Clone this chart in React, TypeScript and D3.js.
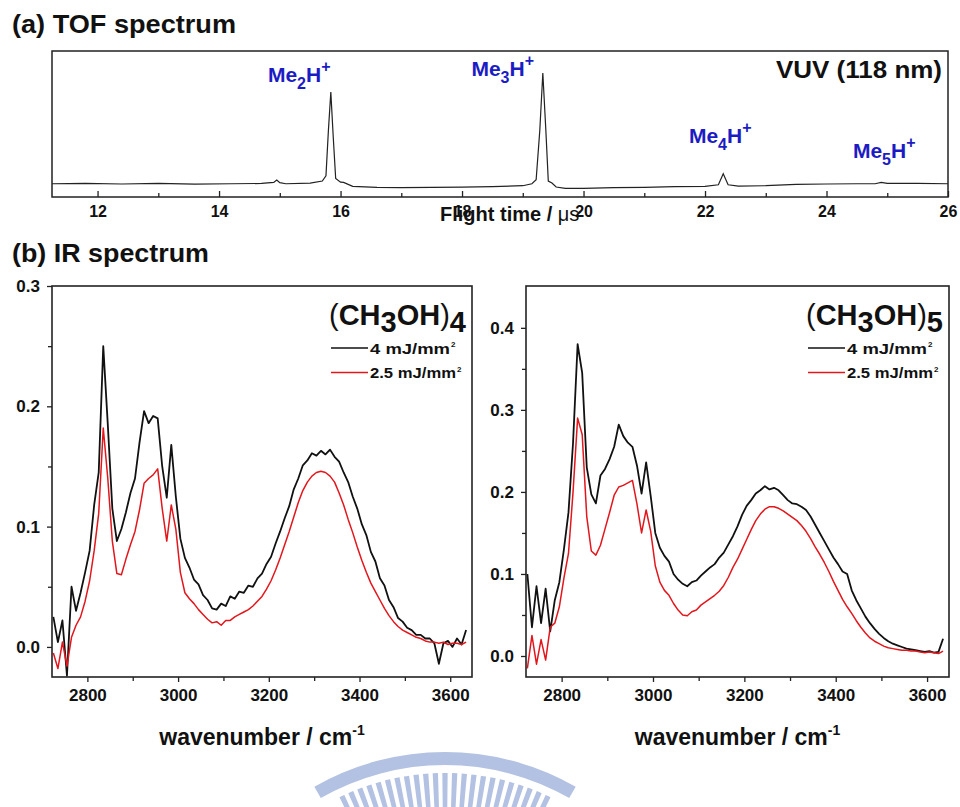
import React, { useEffect, useRef } from "react";
import * as d3 from "d3";

// ---- (a) TOF spectrum ----
const tofTime = [
  11.25, 11.8, 12.4, 13.0, 13.6, 14.2, 14.7, 14.9, 14.95, 15.0, 15.1, 15.5, 15.7, 15.76, 15.8, 15.84,
  15.88, 15.92, 16.0, 16.05, 16.2, 16.6, 17.0, 17.5, 18.0, 18.5, 19.0, 19.15, 19.22, 19.28, 19.33,
  19.38, 19.42, 19.48, 19.55, 19.7, 20.0, 20.5, 21.0, 21.5, 22.0, 22.22, 22.3, 22.38, 22.55, 23.0,
  23.5, 24.0, 24.5, 24.8, 24.9, 25.0, 25.5, 26.0,
];
const tofSignal = [
  0.0, 0.003, -0.002, 0.002, -0.003, 0.0, 0.002, 0.01, 0.028, 0.008, 0.0, 0.005, 0.02, 0.06, 0.4, 0.69,
  0.35, 0.04, 0.012, 0.01, -0.02, -0.028, -0.03, -0.027, -0.025, -0.022, -0.015, 0.0, 0.03, 0.4, 0.834,
  0.4, 0.02, 0.005, -0.025, -0.035, -0.035, -0.03, -0.028, -0.022, -0.02, -0.008, 0.075, -0.008, -0.018,
  -0.015, -0.005, -0.002, 0.0, 0.0, 0.01, 0.002, 0.003, 0.0,
];
const tofMajorTicks = [12, 14, 16, 18, 20, 22, 24, 26];
const tofMinorTicks = [13, 15, 17, 19, 21, 23, 25];
const ionNumbers = ["2", "3", "4", "5"];
const ionLabelTimes = [15.32, 18.67, 22.25, 24.95];

// ---- (b) IR spectra, sampled every 10 cm-1 from 2725 to 3635 ----
const wavenumbers = d3.range(2725, 3640, 10);
const tetramerHigh = [
  0.025, 0.004, 0.022, -0.024, 0.05, 0.03, 0.045, 0.062, 0.08, 0.118,
  0.145, 0.25, 0.185, 0.115, 0.088, 0.098, 0.112, 0.128, 0.14, 0.17,
  0.196, 0.186, 0.192, 0.19, 0.15, 0.124, 0.168, 0.125, 0.09, 0.074,
  0.066, 0.056, 0.052, 0.043, 0.039, 0.032, 0.031, 0.036, 0.034, 0.042,
  0.04, 0.046, 0.045, 0.051, 0.05, 0.057, 0.061, 0.069, 0.075, 0.086,
  0.096, 0.107, 0.117, 0.131, 0.14, 0.151, 0.155, 0.161, 0.159, 0.163,
  0.16, 0.164, 0.158, 0.154, 0.145, 0.137, 0.125, 0.115, 0.102, 0.093,
  0.079, 0.071, 0.057, 0.051, 0.039, 0.033, 0.024, 0.021, 0.016, 0.014,
  0.01, 0.01, 0.007, 0.007, 0.003, -0.014, 0.003, 0.005, 0.0, 0.007,
  0.002, 0.014,
];
const tetramerLow = [
  -0.005, -0.018, 0.004, -0.016, 0.008, 0.018, 0.025, 0.038, 0.055, 0.08,
  0.111, 0.182, 0.14, 0.088, 0.061, 0.06, 0.073, 0.085, 0.096, 0.114,
  0.136, 0.14, 0.143, 0.148, 0.115, 0.088, 0.118, 0.098, 0.062, 0.045,
  0.04, 0.036, 0.031, 0.027, 0.023, 0.02, 0.021, 0.018, 0.022, 0.022,
  0.025, 0.027, 0.029, 0.031, 0.034, 0.038, 0.042, 0.048, 0.055, 0.064,
  0.074, 0.085, 0.096, 0.108, 0.12, 0.13, 0.137, 0.142, 0.145, 0.146,
  0.145, 0.142, 0.137, 0.128, 0.118, 0.106, 0.095, 0.083, 0.072, 0.062,
  0.053, 0.046, 0.039, 0.032, 0.026, 0.021, 0.017, 0.014, 0.012, 0.01,
  0.008, 0.007, 0.005, 0.004, 0.004, 0.003, 0.004, 0.002, 0.003, 0.003,
  0.002, 0.004,
];
const pentamerHigh = [
  0.1, 0.035, 0.085, 0.04, 0.082, 0.03, 0.068, 0.09, 0.13, 0.175,
  0.26, 0.38, 0.345, 0.23, 0.197, 0.186, 0.22, 0.228, 0.24, 0.255,
  0.282, 0.268, 0.26, 0.255, 0.232, 0.198, 0.236, 0.195, 0.15, 0.132,
  0.122, 0.115, 0.1, 0.093, 0.088, 0.085, 0.09, 0.092, 0.098, 0.103,
  0.108, 0.112, 0.12, 0.126, 0.136, 0.146, 0.158, 0.172, 0.183, 0.19,
  0.198, 0.202, 0.207, 0.203, 0.205, 0.202, 0.196, 0.19, 0.186, 0.185,
  0.182, 0.178, 0.17, 0.16, 0.15, 0.14, 0.13, 0.12, 0.112, 0.103,
  0.1, 0.08, 0.068, 0.058, 0.048, 0.04, 0.033, 0.027, 0.022, 0.018,
  0.015, 0.013, 0.011, 0.009, 0.008, 0.007, 0.006, 0.005, 0.006, 0.004,
  0.005, 0.021,
];
const pentamerLow = [
  -0.015, 0.025, -0.01, 0.02, -0.005, 0.035, 0.04, 0.06, 0.095, 0.125,
  0.2, 0.29, 0.27, 0.17, 0.128, 0.123, 0.135, 0.155, 0.175, 0.196,
  0.206, 0.208, 0.211, 0.214, 0.185, 0.15, 0.178, 0.152, 0.11, 0.09,
  0.08, 0.074, 0.064, 0.056, 0.05, 0.049, 0.054, 0.056, 0.062, 0.066,
  0.07, 0.074, 0.079, 0.086, 0.096, 0.108, 0.118, 0.13, 0.142, 0.154,
  0.165, 0.173, 0.179, 0.182, 0.182, 0.18, 0.177, 0.173, 0.169, 0.165,
  0.159, 0.152, 0.143, 0.133, 0.124, 0.114, 0.103, 0.091, 0.08, 0.069,
  0.06, 0.052, 0.043, 0.035, 0.028, 0.022, 0.018, 0.015, 0.012, 0.01,
  0.009, 0.008, 0.007, 0.007, 0.006, 0.006, 0.005, 0.004, 0.005, 0.004,
  0.003, 0.006,
];
const irMajorTicks = [2800, 3000, 3200, 3400, 3600];
const irMinorTicks = [2900, 3100, 3300, 3500];
const tetramerYTicks = [0.0, 0.1, 0.2, 0.3];
const tetramerYMinor = [0.05, 0.15, 0.25];
const pentamerYTicks = [0.0, 0.1, 0.2, 0.3, 0.4];
const pentamerYMinor = [0.05, 0.15, 0.25, 0.35];
const fluenceLabels = ["4 mJ/mm", "2.5 mJ/mm"];
const seriesColors = ["#111111", "#e3161c"];

const SANS = "'Liberation Sans', Arial, Helvetica, sans-serif";
const BLUE = "#1c1cc4";

type Sel = d3.Selection<SVGGElement, unknown, null, undefined>;

function styleAxis(g: Sel, size: number) {
  g.attr("font-family", SANS).attr("font-size", size).attr("font-weight", "bold");
  g.select(".domain").remove();
  g.selectAll("line").attr("stroke", "#222").attr("stroke-width", 1.3);
  g.selectAll("text").attr("fill", "#111");
}

function drawIR(
  svg: d3.Selection<SVGSVGElement, unknown, null, undefined>,
  box: { l: number; r: number; t: number; b: number },
  yDomain: [number, number],
  yMajor: number[],
  yMinor: number[],
  series: number[][],
  nSub: string
) {
  const x = d3.scaleLinear().domain([2722, 3648]).range([box.l, box.r]);
  const y = d3.scaleLinear().domain(yDomain).range([box.b, box.t]);
  const g = svg.append("g");

  const clipId = "clip" + nSub;
  svg.append("clipPath").attr("id", clipId)
    .append("rect").attr("x", box.l).attr("y", box.t).attr("width", box.r - box.l).attr("height", box.b - box.t);

  const line = d3.line<number>().x((_, i) => x(wavenumbers[i])).y((d) => y(d));
  const plot = g.append("g").attr("clip-path", `url(#${clipId})`);
  [0, 1].forEach((k) => {
    plot.append("path").datum(series[k]).attr("d", line)
      .attr("fill", "none").attr("stroke", seriesColors[k])
      .attr("stroke-width", k === 0 ? 1.8 : 1.5).attr("stroke-linejoin", "round");
  });

  const xa = g.append("g").attr("transform", `translate(0,${box.b})`)
    .call(d3.axisBottom(x).tickValues(irMajorTicks).tickSize(5).tickPadding(7).tickFormat(d3.format("d")));
  styleAxis(xa, 17);
  g.append("g").attr("transform", `translate(0,${box.b})`)
    .call(d3.axisBottom(x).tickValues(irMinorTicks).tickSize(4).tickFormat(() => ""))
    .call((s) => styleAxis(s, 17));

  const ya = g.append("g").attr("transform", `translate(${box.l},0)`)
    .call(d3.axisLeft(y).tickValues(yMajor).tickSize(5).tickPadding(7).tickFormat(d3.format(".1f")));
  styleAxis(ya, 17);
  g.append("g").attr("transform", `translate(${box.l},0)`)
    .call(d3.axisLeft(y).tickValues(yMinor).tickSize(4).tickFormat(() => ""))
    .call((s) => styleAxis(s, 17));

  g.append("rect").attr("x", box.l).attr("y", box.t).attr("width", box.r - box.l).attr("height", box.b - box.t)
    .attr("fill", "none").attr("stroke", "#222").attr("stroke-width", 1.6);

  // x-axis title
  const xt = g.append("text").attr("x", (box.l + box.r) / 2).attr("y", 745)
    .attr("text-anchor", "middle").attr("font-family", SANS).attr("font-size", 23)
    .attr("font-weight", "bold").attr("fill", "#111");
  xt.append("tspan").text("wavenumber / cm");
  xt.append("tspan").attr("font-size", 14).attr("dy", -10).text("-1");

  // species label
  const sp = g.append("text").attr("x", box.r - 6).attr("y", 325).attr("text-anchor", "end")
    .attr("font-family", SANS).attr("font-size", 29).attr("fill", "#111");
  sp.append("tspan").attr("font-weight", "normal").text("(");
  sp.append("tspan").attr("font-weight", "bold").text("CH");
  sp.append("tspan").attr("font-weight", "bold").attr("dy", 7).text("3");
  sp.append("tspan").attr("font-weight", "bold").attr("dy", -7).text("OH");
  sp.append("tspan").attr("font-weight", "normal").text(")");
  sp.append("tspan").attr("font-weight", "bold").attr("dy", 7).text(nSub);

  // legend
  const lx = box.r - 141;
  fluenceLabels.forEach((lab, k) => {
    const ly = 348 + k * 24.5;
    g.append("line").attr("x1", lx).attr("x2", lx + 37).attr("y1", ly).attr("y2", ly)
      .attr("stroke", seriesColors[k]).attr("stroke-width", 1.5);
    const w = k === 0 ? 80 : 86;
    g.append("text").attr("x", lx + 39).attr("y", ly + 5.5)
      .attr("font-family", SANS).attr("font-size", 14).attr("font-weight", "bold").attr("fill", "#111")
      .attr("textLength", w).attr("lengthAdjust", "spacingAndGlyphs").text(lab);
    g.append("text").attr("x", lx + 39 + w + 1).attr("y", ly - 1)
      .attr("font-family", SANS).attr("font-size", 8).attr("font-weight", "bold").attr("fill", "#111").text("2");
  });
}

const App: React.FC = () => {
  const ref = useRef<SVGSVGElement>(null);

  useEffect(() => {
    const svg = d3.select(ref.current as SVGSVGElement);
    svg.selectAll("*").remove();
    svg.append("rect").attr("width", 960).attr("height", 807).attr("fill", "#fff");

    // watermark (faint logo at bottom)
    const wm = svg.append("g").attr("transform", "translate(445,1015)").attr("fill", "#b3c2e2");
    wm.append("path").attr("d", d3.arc()({ innerRadius: 250, outerRadius: 263, startAngle: -0.52, endAngle: 0.52 }) || "");
    d3.range(-0.44, 0.45, 0.04).forEach((a) => {
      wm.append("path").attr("d", d3.arc()({ innerRadius: 205, outerRadius: 242, startAngle: a - 0.011, endAngle: a + 0.011 }) || "");
    });

    // panel titles
    svg.append("text").attr("x", 12).attr("y", 33).attr("font-family", SANS).attr("font-size", 25)
      .attr("font-weight", "bold").attr("fill", "#111")
      .attr("textLength", 224).attr("lengthAdjust", "spacingAndGlyphs").text("(a) TOF spectrum");
    svg.append("text").attr("x", 12).attr("y", 262).attr("font-family", SANS).attr("font-size", 25)
      .attr("font-weight", "bold").attr("fill", "#111")
      .attr("textLength", 197).attr("lengthAdjust", "spacingAndGlyphs").text("(b) IR spectrum");

    // ---- TOF panel ----
    const tb = { l: 52, r: 948, t: 51, b: 197 };
    const tx = d3.scaleLinear().domain([11.25, 26]).range([tb.l, tb.r]);
    const ty = d3.scaleLinear().domain([-0.1, 1.0]).range([tb.b, tb.t]);
    const tg = svg.append("g");
    tg.append("path").datum(tofSignal)
      .attr("d", d3.line<number>().x((_, i) => tx(tofTime[i])).y((d) => ty(d)))
      .attr("fill", "none").attr("stroke", "#222").attr("stroke-width", 1.2);

    const txa = tg.append("g").attr("transform", `translate(0,${tb.b})`)
      .call(d3.axisBottom(tx).tickValues(tofMajorTicks).tickSizeInner(-6).tickSizeOuter(0).tickPadding(9).tickFormat(d3.format("d")));
    styleAxis(txa, 16);
    tg.append("g").attr("transform", `translate(0,${tb.b})`)
      .call(d3.axisBottom(tx).tickValues(tofMinorTicks).tickSizeInner(-4).tickSizeOuter(0).tickFormat(() => ""))
      .call((s) => styleAxis(s, 16));
    tg.append("rect").attr("x", tb.l).attr("y", tb.t).attr("width", tb.r - tb.l).attr("height", tb.b - tb.t)
      .attr("fill", "none").attr("stroke", "#222").attr("stroke-width", 1.5);

    const ft = tg.append("text").attr("x", 440).attr("y", 221).attr("font-family", SANS)
      .attr("font-size", 20).attr("font-weight", "bold").attr("fill", "#111");
    ft.append("tspan").text("Flight time / ");
    ft.append("tspan").attr("font-weight", "normal").text("μs");

    tg.append("text").attr("x", 942).attr("y", 78).attr("text-anchor", "end").attr("font-family", SANS)
      .attr("font-size", 23).attr("font-weight", "bold").attr("fill", "#111")
      .attr("textLength", 166).attr("lengthAdjust", "spacingAndGlyphs").text("VUV (118 nm)");

    const labelBase = [82, 76, 143, 158];
    ionNumbers.forEach((n, i) => {
      const t = tg.append("text").attr("x", tx(ionLabelTimes[i])).attr("y", labelBase[i])
        .attr("text-anchor", "middle").attr("font-family", SANS).attr("font-size", 21)
        .attr("font-weight", "bold").attr("fill", BLUE);
      t.append("tspan").text("Me");
      t.append("tspan").attr("font-size", 16).attr("dy", 7).text(n);
      t.append("tspan").attr("dy", -7).text("H");
      t.append("tspan").attr("font-size", 16).attr("dy", -10).text("+");
    });

    // ---- IR panels ----
    drawIR(svg, { l: 52, r: 472, t: 286, b: 677 }, [-0.025, 0.3], tetramerYTicks, tetramerYMinor,
      [tetramerHigh, tetramerLow], "4");
    drawIR(svg, { l: 526, r: 949, t: 286, b: 677 }, [-0.0256, 0.451], pentamerYTicks, pentamerYMinor,
      [pentamerHigh, pentamerLow], "5");
  }, []);

  return <svg ref={ref} width={960} height={807} style={{ position: "absolute", left: 0, top: 0 }} />;
};

export default App;
